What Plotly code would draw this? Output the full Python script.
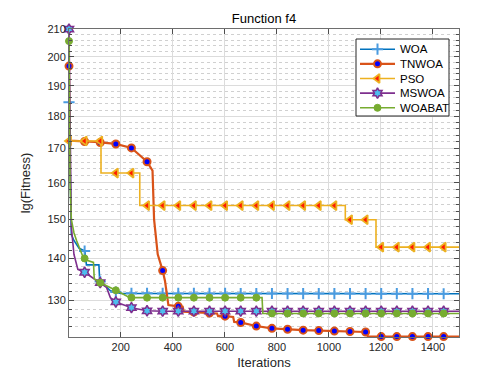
import numpy as np
import plotly.graph_objects as go

# ---------------- data ----------------
WOA_x = [1, 5, 10, 20, 40, 62, 68, 116, 119, 140, 160, 200, 1500]
WOA_y = [184.5, 160, 146, 144.5, 142.5, 141.8, 138.4, 138.4, 134.5, 133.4, 132.2, 131.6, 131.5]

TNWOA_x = [1, 3, 100, 181, 241, 301, 322, 328, 342, 361, 370, 383, 421, 438, 442, 481, 541, 570, 574,
           600, 632, 636, 660, 720, 780, 900, 1141, 1150, 1500]
TNWOA_y = [196.7, 172.4, 172.0, 171.4, 170.2, 166.1, 163.5, 150, 141, 137.0, 134.5, 128.9, 128.6, 128.5,
           127.4, 127.3, 127.1, 127.0, 126.4, 126.4, 126.2, 125.1, 125.0, 124.2, 123.7, 123.3, 122.9, 121.9, 121.9]

PSO_x = [1, 124, 124, 273, 273, 1063, 1063, 1181, 1181, 1500]
PSO_y = [172.3, 172.3, 162.8, 162.8, 153.7, 153.7, 149.9, 149.9, 142.8, 142.8]

MSWOA_x = [1, 5, 10, 20, 35, 61, 121, 145, 160, 181, 241, 301, 361, 1500]
MSWOA_y = [210.0, 170, 148, 141, 137.3, 136.6, 134.1, 133.0, 130.6, 129.6, 128.3, 127.6, 127.5, 127.5]

WOABAT_x = [1, 5, 10, 20, 30, 55, 70, 95, 98, 121, 181, 235, 743, 746, 1500]
WOABAT_y = [205.6, 160, 150, 146.5, 144.5, 140.3, 139.5, 139.0, 135.0, 134.1, 132.3, 130.6, 130.6, 127.0, 127.0]

NAMES = ["WOA", "TNWOA", "PSO", "MSWOA", "WOABAT"]
MARKER_ITERS = np.arange(1, 1501, 60)
Y_TICKS = [130, 140, 150, 160, 170, 180, 190, 200, 210]
Y_MINOR = [v for v in range(122, 210, 2) if v % 10 != 0]
X_TICKS = [200, 400, 600, 800, 1000, 1200, 1400]

series = {
    "WOA": (WOA_x, WOA_y),
    "TNWOA": (TNWOA_x, TNWOA_y),
    "PSO": (PSO_x, PSO_y),
    "MSWOA": (MSWOA_x, MSWOA_y),
    "WOABAT": (WOABAT_x, WOABAT_y),
}

styles = {
    "WOA": dict(color="#0072BD", lw=1.6,
                marker=dict(symbol="cross-thin", size=8, color="#4a9be0",
                            line=dict(color="#4a9be0", width=2))),
    "TNWOA": dict(color="#D95319", lw=2.2,
                  marker=dict(symbol="circle", size=7, color="#0000FF",
                              line=dict(color="#D95319", width=2))),
    "PSO": dict(color="#EDB120", lw=1.6,
                marker=dict(symbol="triangle-left", size=8, color="#FF1a00",
                            line=dict(color="#EDB120", width=1.8))),
    "MSWOA": dict(color="#7E2F8E", lw=1.6,
                  marker=dict(symbol="hexagram", size=8, color="#4DBEEE",
                              line=dict(color="#7E2F8E", width=1.5))),
    "WOABAT": dict(color="#77AC30", lw=1.6,
                   marker=dict(symbol="circle", size=7, color="#77AC30",
                               line=dict(color="#77AC30", width=1))),
}

FONT = "Liberation Sans, Arial, Helvetica, sans-serif"

# plot-area pixel frame (used only for the hand-drawn legend overlay)
PL, PR, PT, PB = 61, 451, 21, 329
LEG_BOX = (348, 441, 31, 108)
LEG_ROW0, LEG_DY = 41.2, 14.65
LEG_LINE = (352, 387)
LEG_TEXT_X = 390

fig = go.Figure()
for name in NAMES:
    x, y = series[name]
    st = styles[name]
    xa = np.array(x, float)
    ly = np.log10(np.array(y, float))
    my = 10 ** np.interp(MARKER_ITERS, xa, ly)
    fig.add_trace(go.Scatter(x=x, y=y, mode="lines", line=dict(color=st["color"], width=st["lw"]),
                             showlegend=False, hoverinfo="skip", cliponaxis=False))
    fig.add_trace(go.Scatter(x=MARKER_ITERS, y=my, mode="markers", marker=st["marker"],
                             showlegend=False, cliponaxis=False, name=name))

# ---- legend (overlay axes in pixel units) ----
bx0, bx1, by0, by1 = LEG_BOX
fig.add_trace(go.Scatter(x=[bx0, bx1, bx1, bx0, bx0], y=[by0, by0, by1, by1, by0], mode="lines",
                         fill="toself", fillcolor="white", line=dict(color="#262626", width=1),
                         xaxis="x2", yaxis="y2", showlegend=False, hoverinfo="skip"))
annotations = []
for i, name in enumerate(NAMES):
    st = styles[name]
    ry = LEG_ROW0 + i * LEG_DY
    fig.add_trace(go.Scatter(x=list(LEG_LINE), y=[ry, ry], mode="lines",
                             line=dict(color=st["color"], width=st["lw"]),
                             xaxis="x2", yaxis="y2", showlegend=False, hoverinfo="skip"))
    fig.add_trace(go.Scatter(x=[sum(LEG_LINE) / 2], y=[ry], mode="markers", marker=st["marker"],
                             xaxis="x2", yaxis="y2", showlegend=False, hoverinfo="skip"))
    annotations.append(dict(x=LEG_TEXT_X, y=ry, xref="x2", yref="y2", text=name, showarrow=False,
                            xanchor="left", yanchor="middle",
                            font=dict(family=FONT, size=11.5, color="#000")))

all_y = np.concatenate([np.array(v[1], float) for v in series.values()])
ymin, ymax = all_y.min(), all_y.max()

axis_common = dict(
    showline=True, linecolor="#6e6e6e", linewidth=1, mirror="allticks",
    ticks="inside", ticklen=5, tickcolor="#4d4d4d",
    showgrid=True, gridcolor="#dcdcdc", gridwidth=1,
    zeroline=False, tickfont=dict(family=FONT, size=11, color="#262626"),
)

fig.update_xaxes(range=[1, 1500], tickvals=X_TICKS, **axis_common,
                 title=dict(text="Iterations", font=dict(family=FONT, size=13, color="#262626"), standoff=5))
fig.update_yaxes(type="log", range=[np.log10(ymin) - 3e-4, np.log10(ymax) + 1e-4], tickvals=Y_TICKS,
                 ticktext=[str(v) for v in Y_TICKS], **axis_common,
                 minor=dict(tickvals=Y_MINOR, ticks="inside", ticklen=3, tickcolor="#4d4d4d",
                            showgrid=True, gridcolor="#d0d0d0", griddash="dot", gridwidth=1),
                 title=dict(text="lg(Fitness)", font=dict(family=FONT, size=13, color="#262626"), standoff=13))

fig.update_layout(
    width=498, height=376,
    margin=dict(l=PL, r=498 - PR, t=PT, b=376 - PB),
    paper_bgcolor="white", plot_bgcolor="white",
    xaxis2=dict(overlaying="x", range=[PL, PR], visible=False, fixedrange=True),
    yaxis2=dict(overlaying="y", range=[PB, PT], visible=False, fixedrange=True),
    annotations=annotations,
    showlegend=False,
    title=dict(text="Function f4", x=(PL + PR) / 2 / 498, xanchor="center", y=1 - 10 / 376, yanchor="middle",
               font=dict(family=FONT, size=13, color="#000000")),
    font=dict(family=FONT),
)

fig.write_html("out.html")
